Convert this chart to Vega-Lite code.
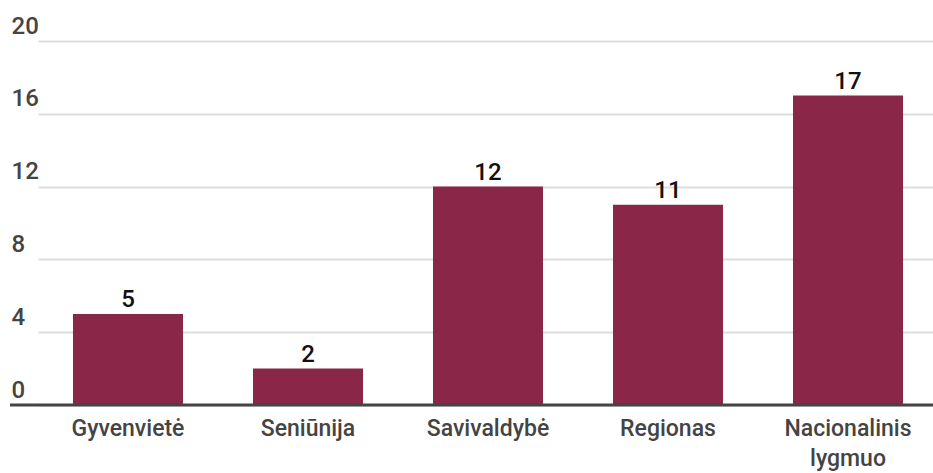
{
  "$schema": "https://vega.github.io/schema/vega-lite/v6.json",
  "width": 923,
  "height": 364,
  "autosize": {"type": "none"},
  "padding": {"left": 10, "top": 41, "right": 0, "bottom": 68},
  "background": "white",
  "config": {"view": {"stroke": null}, "font": "Roboto"},
  "data": {"values": [
    {"lygis": "Gyvenvietė", "kiekis": 5},
    {"lygis": "Seniūnija", "kiekis": 2},
    {"lygis": "Savivaldybė", "kiekis": 12},
    {"lygis": "Regionas", "kiekis": 11},
    {"lygis": "Nacionalinis lygmuo", "kiekis": 17}
  ]},
  "encoding": {
    "x": {
      "field": "lygis", "type": "nominal", "sort": null,
      "scale": {"range": [28, 928], "paddingInner": 0.3889, "paddingOuter": 0.1944},
      "axis": {
        "title": null, "domain": false, "ticks": false, "labelAngle": 0,
        "labelFont": "Roboto", "labelFontSize": 23, "labelFontWeight": 500, "labelColor": "#444444",
        "labelPadding": 12, "labelLineHeight": 30, "labelBaseline": "top",
        "labelExpr": "datum.label == 'Nacionalinis lygmuo' ? ['Nacionalinis', 'lygmuo'] : datum.label"
      }
    },
    "y": {
      "field": "kiekis", "type": "quantitative",
      "scale": {"domain": [0, 20]},
      "axis": {
        "title": null, "domain": false, "ticks": false, "values": [0, 4, 8, 12, 16, 20],
        "labelAlign": "left", "labelBaseline": "alphabetic", "labelPadding": -1, "labelOffset": -8,
        "labelFont": "Roboto", "labelFontSize": 24, "labelFontWeight": 500, "labelColor": "#444444",
        "gridColor": "#dddddd", "gridWidth": 2
      }
    }
  },
  "layer": [
    {"mark": {"type": "bar", "color": "#8a2748"}},
    {
      "mark": {"type": "text", "baseline": "alphabetic", "dy": -7, "font": "Roboto", "fontSize": 24, "fontWeight": 500, "color": "#111111"},
      "encoding": {"text": {"field": "kiekis", "type": "quantitative"}}
    },
    {
      "data": {"values": [{"y": 0}]},
      "mark": {"type": "rule", "color": "#444444", "strokeWidth": 3},
      "encoding": {"y": {"field": "y", "type": "quantitative"}, "x": null}
    }
  ]
}
